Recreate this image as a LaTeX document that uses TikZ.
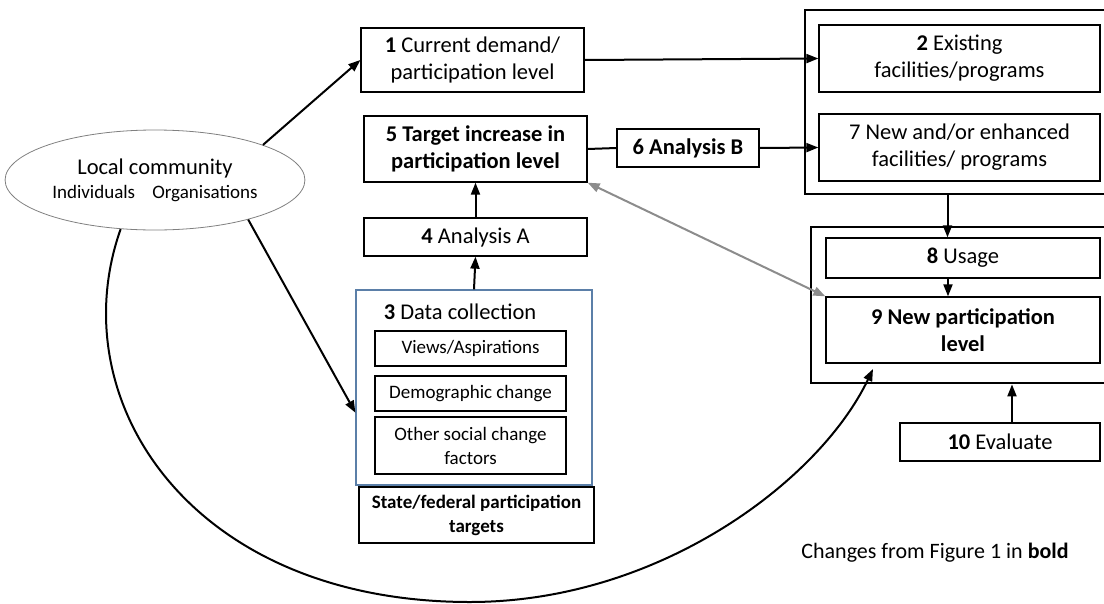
\documentclass[tikz,border=0pt]{standalone}
\usepackage{fontspec}
\setmainfont{Carlito}
\usepackage{xcolor}
\usepackage{tikz}
\usetikzlibrary{shapes,arrows.meta,positioning,calc}

\definecolor{frameblue}{HTML}{5B7FA8}
\definecolor{linkgray}{HTML}{8C8C8C}
\newcommand{\bigtxt}{\fontsize{22.5}{27}\selectfont}
\newcommand{\smalltxt}{\fontsize{19}{24}\selectfont}

\begin{document}
\begin{tikzpicture}[
    x=1pt, y=-1pt,
    box/.style={rectangle, draw, line width=1.3pt, align=center, inner sep=2pt, font=\bigtxt},
    subbox/.style={rectangle, draw, line width=1.3pt, align=center, inner sep=2pt, font=\smalltxt, minimum width=191pt},
    outerbox/.style={rectangle, draw, line width=2.8pt},
    arrow/.style={-{Triangle[length=12pt,width=9pt]}, line width=2pt},
    link/.style={line width=2pt}
]
\useasboundingbox (0,0) rectangle (1104,603);
\clip (0,0) rectangle (1104,603);

% community
\node[ellipse, draw=gray, line width=0.8pt, minimum width=290pt, minimum height=100pt, align=center, font=\bigtxt] (local) at (155,180)
    {Local community\\[-3pt]{\smalltxt Individuals\hspace{0.9em}Organisations}};

% middle column
\node[box, minimum width=223pt, minimum height=64pt] (demand) at (472.5,60) {\textbf{1} Current demand/\\participation level};
\node[box, minimum width=223pt, minimum height=66pt, font=\bigtxt\bfseries] (target) at (475.5,149) {5 Target increase in\\participation level};
\node[box, minimum width=142pt, minimum height=38pt, font=\bigtxt\bfseries] (analysisB) at (688,148) {6 Analysis B};
\node[box, minimum width=223pt, minimum height=38pt] (analysisA) at (475.5,237) {\textbf{4} Analysis A};

% data collection
\node[rectangle, draw=frameblue, line width=1.2pt, minimum width=236pt, minimum height=195pt] (datacoll) at (474,387.5) {};
\node[font=\bigtxt] (datatitle) at (460,312) {\textbf{3} Data collection};
\node[subbox, minimum height=35pt] (views) at (470.5,348.5) {Views/Aspirations};
\node[subbox, minimum height=35pt] (demog) at (470.5,393.5) {Demographic change};
\node[subbox, minimum height=57pt] (other) at (470.5,445.5) {Other social change\\factors};
\node[box, line width=2.2pt, minimum width=235pt, minimum height=56pt, font=\smalltxt\bfseries] (state) at (476.5,515) {State/federal participation\\targets};

% facilities
\node[outerbox, minimum width=305pt, minimum height=184pt] (fac) at (957.5,102) {};
\node[box, minimum width=281pt, minimum height=67pt] (existing) at (959.5,58.5) {\textbf{2} Existing\\facilities/programs};
\node[box, minimum width=281pt, minimum height=67pt] (newfac) at (959.5,147.5) {7 New and/or enhanced\\facilities/ programs};

% participation
\node[outerbox, minimum width=299pt, minimum height=156pt] (part) at (960.5,305) {};
\node[box, minimum width=274pt, minimum height=40pt] (usage) at (963,258) {\textbf{8} Usage};
\node[box, minimum width=274pt, minimum height=66pt, font=\bigtxt\bfseries] (newpart) at (963,330) {9 New participation\\level};
\node[box, minimum width=200pt, minimum height=38pt] (evaluate) at (1000,442) {\textbf{10} Evaluate};

\node[font=\fontsize{22}{26}\selectfont] (note) at (935,553) {Changes from Figure 1 in \textbf{bold}};
\coordinate (curveend) at (873,369);

% connectors
\draw[arrow] (local.18) -- (demand.west);
\draw[arrow] (local.-23) -- (datacoll.192);
\draw[arrow] (demand.east) -- (existing.west);
\draw[link] (target.east) -- (analysisB.west);
\draw[arrow] (analysisB.east) -- (newfac.west);
\draw[arrow] (analysisA.north) -- (target.south);
\draw[arrow] (datacoll.north) -- (analysisA.south);
\draw[arrow] ([xshift=-10pt]fac.south) -- ([xshift=-10pt]fac.south |- usage.north);
\draw[arrow] ([xshift=-15pt]usage.south) -- ([xshift=-15pt]newpart.north);
\draw[arrow] ([xshift=12pt]evaluate.north) -- ([xshift=12pt]evaluate.north |- part.south);
\draw[{Triangle[length=12pt,width=9pt]}-{Triangle[length=12pt,width=9pt]}, line width=2pt, linkgray] (target.south east) -- (newpart.north west);
\draw[arrow] (local.235) .. controls (60,400) and (190,602) .. (470,602) .. controls (660,602) and (820,480) .. (curveend);
\end{tikzpicture}
\end{document}
